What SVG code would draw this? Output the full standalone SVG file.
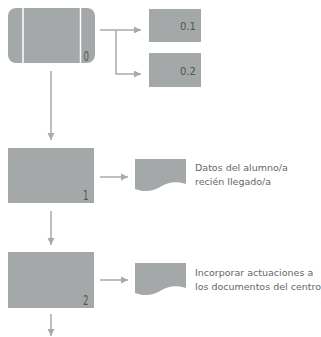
<svg xmlns="http://www.w3.org/2000/svg" width="321" height="337" viewBox="0 0 321 337">
<style>
.box{fill:#a5a8a8}
.sep{stroke:#ffffff;stroke-width:1.5}
.ln{stroke:#aaaaaa;stroke-width:1.5;fill:none}
.num{font-family:"DejaVu Sans",sans-serif;font-size:10px;fill:#555555}
.big{font-family:"DejaVu Sans",sans-serif;font-size:13.5px;fill:#555555}
.lbl{font-family:"DejaVu Sans",sans-serif;font-size:9.5px;fill:#666666}
</style>
<defs>
<marker id="ah" viewBox="0 0 8 8" refX="8" refY="4" markerWidth="5" markerHeight="5" orient="auto" markerUnits="strokeWidth">
<path d="M0,0 L8,4 L0,8 Z" fill="#aaaaaa"/>
</marker>
</defs>
<rect width="321" height="337" fill="#ffffff"/>
<g id="connectors">
<path class="ln" d="M100,30 H141" marker-end="url(#ah)"/>
<path class="ln" d="M116,30 V74 H141" marker-end="url(#ah)"/>
<path class="ln" d="M51,71 V140" marker-end="url(#ah)"/>
<path class="ln" d="M100,177 H128" marker-end="url(#ah)"/>
<path class="ln" d="M51,211 V245" marker-end="url(#ah)"/>
<path class="ln" d="M100,280 H128" marker-end="url(#ah)"/>
<path class="ln" d="M51,314 V336" marker-end="url(#ah)"/>
</g>
<g id="node0">
<rect class="box" x="8" y="8" width="87" height="55" rx="8"/>
<line class="sep" x1="23" y1="8" x2="23" y2="63"/>
<line class="sep" x1="80.5" y1="8" x2="80.5" y2="63"/>
<text class="big" x="83.5" y="61" textLength="5.5" lengthAdjust="spacingAndGlyphs">0</text>
</g>
<g id="node0.1">
<rect class="box" x="149" y="9" width="52" height="33"/>
<text class="num" x="180" y="30">0.1</text>
</g>
<g id="node0.2">
<rect class="box" x="149" y="53" width="52" height="34"/>
<text class="num" x="180" y="75">0.2</text>
</g>
<g id="node1">
<rect class="box" x="8" y="148" width="86" height="55"/>
<text class="big" x="83" y="200" textLength="5.5" lengthAdjust="spacingAndGlyphs">1</text>
</g>
<g id="doc1">
<path class="box" d="M135,159 H186 V184 C176,181 168,182 160,187 C152,192 143,192 135,189 Z"/>
<text class="lbl" x="195" y="171">Datos del alumno/a</text>
<text class="lbl" x="195" y="185">recién llegado/a</text>
</g>
<g id="node2">
<rect class="box" x="8" y="252" width="86" height="56"/>
<text class="big" x="83" y="305" textLength="5.5" lengthAdjust="spacingAndGlyphs">2</text>
</g>
<g id="doc2">
<path class="box" d="M135,263 H186 V288 C176,285 168,286 160,291 C152,296 143,296 135,293 Z"/>
<text class="lbl" x="195" y="276">Incorporar actuaciones a</text>
<text class="lbl" x="195" y="290">los documentos del centro</text>
</g>
</svg>
